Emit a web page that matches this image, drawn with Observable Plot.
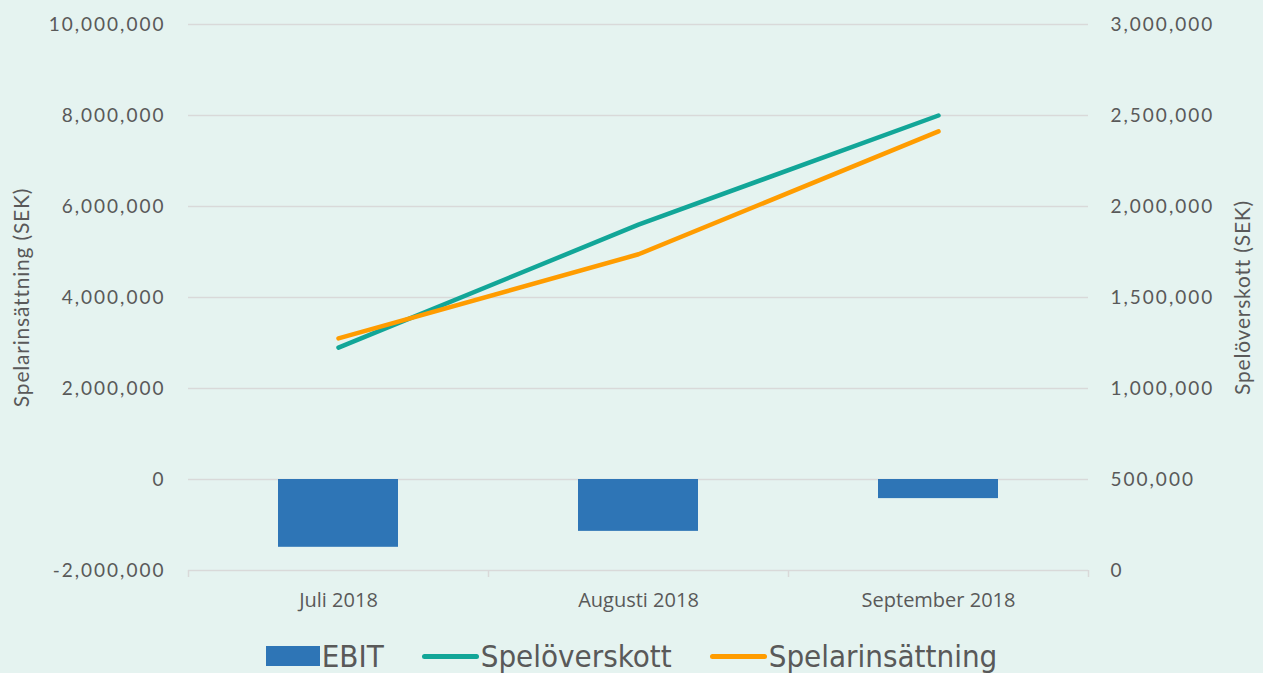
<!DOCTYPE html>
<html>
<head>
<meta charset="utf-8">
<script src="https://cdn.jsdelivr.net/npm/d3@7"></script>
<script src="https://cdn.jsdelivr.net/npm/@observablehq/plot@0.6"></script>
<style>
  html, body { margin: 0; padding: 0; background: #e5f3f0; }
  #chart { width: 1263px; height: 673px; position: relative; overflow: hidden; }
  #legend { position: absolute; left: 0; top: 638px; width: 1263px; display: flex; justify-content: center; align-items: center;
    font-family: "Liberation Sans Narrow", "DejaVu Sans Condensed", sans-serif; font-size: 31px; color: #595959; }
  .item { display: flex; align-items: center; margin: 0 19px; }
  .sw { display: inline-block; margin-right: 2px; }
</style>
</head>
<body>
<div id="chart"></div>
<script>
const months = ["Juli 2018", "Augusti 2018", "September 2018"];
const ebit = [-1490000, -1140000, -420000];
const speloverskott = [1225000, 1900000, 2500000];
const spelarinsattning = [3100000, 4950000, 7650000];
const leftTicks = [-2000000, 0, 2000000, 4000000, 6000000, 8000000, 10000000];
const rightTicks = [0, 500000, 1000000, 1500000, 2000000, 2500000, 3000000];
const seriesNames = ["EBIT", "Spelöverskott", "Spelarinsättning"];
const axisLabels = ["Spelarinsättning (SEK)", "Spelöverskott (SEK)"];
const colors = ["#2e75b6", "#12a698", "#ff9c00"];

const W = 1263, H = 620, ML = 188, MR = 175, MT = 24, MB = 50;
const step = (W - ML - MR) / months.length;
const toLeft = v => v * 4 - 2000000;
const fromLeft = v => (v + 2000000) / 4;
const fmt0 = d3.format(",");
const fmt = v => (v < 0 ? "-" : "") + fmt0(Math.abs(v));

const data = months.map((m, i) => ({
  month: m, ebit: ebit[i], sov: toLeft(speloverskott[i]), sins: spelarinsattning[i]
}));

const font = "Lato, 'Open Sans', sans-serif";

const plot = Plot.plot({
  width: W, height: H,
  marginLeft: ML, marginRight: MR, marginTop: MT, marginBottom: MB,
  style: { background: "transparent", fontFamily: font, fontSize: "19px", color: "#595959" },
  x: { domain: months, paddingInner: 0.6, paddingOuter: 0.3 },
  y: { domain: [-2000000, 10000000] },
  marks: [
    Plot.ruleY(leftTicks, { stroke: "#d9d9d9", strokeWidth: 1.5 }),
    Plot.ruleX(months, { x: d => d, y1: -2000000, y2: -2000000, insetBottom: -7, dx: -step / 2, stroke: "#d9d9d9", strokeWidth: 1.5 }),
    Plot.ruleX(months.slice(-1), { x: d => d, y1: -2000000, y2: -2000000, insetBottom: -7, dx: step / 2, stroke: "#d9d9d9", strokeWidth: 1.5 }),
    Plot.barY(data, { x: "month", y: "ebit", fill: colors[0] }),
    Plot.line(data, { x: "month", y: "sov", stroke: colors[1], strokeWidth: 4.5 }),
    Plot.line(data, { x: "month", y: "sins", stroke: colors[2], strokeWidth: 4.5 }),
    Plot.axisY(leftTicks, { anchor: "left", tickSize: 0, tickPadding: 23, tickFormat: fmt, fontSize: 19, fill: "#595959", label: null }),
    Plot.axisY(rightTicks.map(toLeft), { anchor: "right", tickSize: 0, tickPadding: 22, tickFormat: v => fmt(fromLeft(v)), fontSize: 19, fill: "#595959", label: null }),
    Plot.axisX({ tickSize: 0, tickPadding: 22, fontFamily: "'Open Sans', sans-serif", fontSize: 20, fill: "#595959", label: null }),
    Plot.text([axisLabels[0]], { frameAnchor: "left", textAnchor: "middle", rotate: -90, dx: -166, fontSize: 21, fill: "#595959" }),
    Plot.text([axisLabels[1]], { frameAnchor: "right", textAnchor: "middle", rotate: -90, dx: 155, fontSize: 21, fill: "#595959" })
  ]
});
plot.querySelectorAll("g[aria-label='y-axis tick label']").forEach(e => e.style.letterSpacing = "2px");
plot.querySelectorAll("g[aria-label='text']").forEach(e => e.style.letterSpacing = "0.8px");
document.getElementById("chart").appendChild(plot);

const legend = document.createElement("div");
legend.id = "legend";
seriesNames.forEach((n, i) => {
  const it = document.createElement("div");
  it.className = "item";
  const sw = document.createElement("span");
  sw.className = "sw";
  if (i === 0) { sw.style.width = "54px"; sw.style.height = "20px"; sw.style.background = colors[i]; }
  else { sw.style.width = "57px"; sw.style.height = "5px"; sw.style.borderRadius = "3px"; sw.style.background = colors[i]; }
  const tx = document.createElement("span");
  tx.textContent = n;
  it.appendChild(sw); it.appendChild(tx);
  legend.appendChild(it);
});
document.getElementById("chart").appendChild(legend);
</script>
</body>
</html>
